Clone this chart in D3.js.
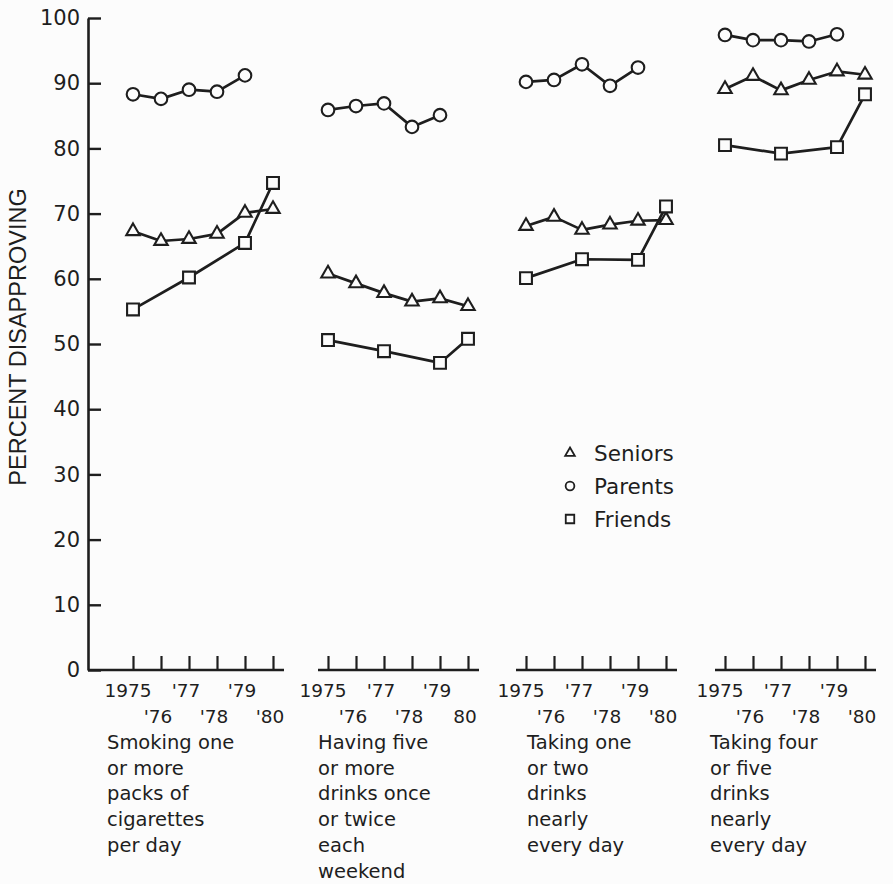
<!DOCTYPE html>
<html>
<head>
<meta charset="utf-8">
<script src="https://cdn.jsdelivr.net/npm/d3@7"></script>
<style>
  html, body { margin: 0; padding: 0; background: #fcfcfc; }
  svg { display: block; }
</style>
</head>
<body>
<script>
// Percent disapproving, by year, for four behaviours
const years = [1975, 1976, 1977, 1978, 1979, 1980];
const parentYears = [1975, 1976, 1977, 1978, 1979];
const friendYears = [1975, 1977, 1979, 1980];

const seniors = [
  [67.3, 65.8, 66.1, 66.9, 70.1, 70.7],
  [60.8, 59.3, 57.8, 56.5, 57.0, 55.8],
  [68.1, 69.5, 67.5, 68.3, 68.9, 69.0],
  [89.1, 91.1, 88.9, 90.5, 91.8, 91.3]
];
const parents = [
  [88.3, 87.6, 89.0, 88.7, 91.2],
  [85.9, 86.5, 86.9, 83.3, 85.1],
  [90.2, 90.5, 92.9, 89.6, 92.4],
  [97.4, 96.6, 96.6, 96.4, 97.5]
];
const friends = [
  [55.3, 60.2, 65.5, 74.7],
  [50.6, 48.9, 47.1, 50.8],
  [60.1, 63.0, 62.9, 71.1],
  [80.5, 79.2, 80.2, 88.3]
];

const panelTitles = [
  ["Smoking one", "or more", "packs of", "cigarettes", "per day"],
  ["Having five", "or more", "drinks once", "or twice", "each", "weekend"],
  ["Taking one", "or two", "drinks", "nearly", "every day"],
  ["Taking four", "or five", "drinks", "nearly", "every day"]
];

const yTicks = [0, 10, 20, 30, 40, 50, 60, 70, 80, 90, 100];
const yTitle = "PERCENT DISAPPROVING";
const upperYears = [1975, 1977, 1979];
const upperLabels = ["1975", "'77", "'79"];
const lowerYears = [1976, 1978, 1980];
const lowerLabels = [
  ["'76", "'78", "'80"],
  ["'76", "'78", "80"],
  ["'76", "'78", "'80"],
  ["'76", "'78", "'80"]
];
const seriesNames = ["Seniors", "Parents", "Friends"];

// ---- layout ----
const W = 893, H = 884;
const ink = "#1e1e1e";
const paper = "#fcfcfc";
const axisX = 88;
const panelLeft = [133, 328, 526, 725];
const panelSpan = 140;
const titleX = [107, 318, 527, 710];

const svg = d3.select("body").append("svg")
  .attr("width", W).attr("height", H)
  .style("background", paper);

const y = d3.scaleLinear().domain([0, 100]).range([670, 18]);

// y axis, ticks pointing inward
const yAxis = svg.append("g")
  .attr("transform", `translate(${axisX},0)`)
  .call(d3.axisLeft(y).tickValues(yTicks).tickSizeInner(-13).tickSizeOuter(0).tickPadding(8));
yAxis.select(".domain").attr("stroke", ink).attr("stroke-width", 2.6);
yAxis.selectAll(".tick line").attr("stroke", ink).attr("stroke-width", 2.4);
yAxis.selectAll(".tick text")
  .attr("fill", ink)
  .style("font-family", "DejaVu Sans, sans-serif")
  .style("font-size", "21px");

svg.append("text")
  .attr("transform", `translate(26,337) rotate(-90)`)
  .attr("text-anchor", "middle")
  .attr("fill", ink)
  .style("font-family", "Liberation Sans, Arial, sans-serif")
  .style("font-size", "23.5px")
  .text(yTitle);

const symTri = d3.symbol().type(d3.symbolTriangle);
const symCirc = d3.symbol().type(d3.symbolCircle);
const symSq = d3.symbol().type(d3.symbolSquare);

const line = d3.line();

panelLeft.forEach((x0, p) => {
  const x = d3.scaleLinear().domain([1975, 1980]).range([x0, x0 + panelSpan]);
  const g = svg.append("g");

  // baseline of the panel
  const lineStart = p === 0 ? axisX : x0 - 10;
  g.append("line")
    .attr("x1", lineStart).attr("x2", x0 + panelSpan + 11)
    .attr("y1", y(0)).attr("y2", y(0))
    .attr("stroke", ink).attr("stroke-width", 2.6);

  const xAxis = g.append("g")
    .attr("transform", `translate(0,${y(0)})`)
    .call(d3.axisBottom(x).tickValues(years).tickSizeInner(-14).tickSizeOuter(0).tickFormat(""));
  xAxis.select(".domain").remove();
  xAxis.selectAll(".tick line").attr("stroke", ink).attr("stroke-width", 2.2);

  // year labels in two staggered rows
  const yearFont = sel => sel
    .attr("text-anchor", "middle")
    .attr("fill", ink)
    .style("font-family", "DejaVu Sans, sans-serif")
    .style("font-size", "18.5px");
  upperYears.forEach((yr, i) => {
    g.append("text").attr("x", x(yr) - (i === 0 ? 5 : 3)).attr("y", 697)
      .call(yearFont).text(upperLabels[i]);
  });
  lowerYears.forEach((yr, i) => {
    g.append("text").attr("x", x(yr) - 3).attr("y", 723)
      .call(yearFont).text(lowerLabels[p][i]);
  });

  // behaviour description
  const t = g.append("text")
    .attr("fill", ink)
    .style("font-family", "DejaVu Sans, sans-serif")
    .style("font-size", "19.5px");
  panelTitles[p].forEach((s, i) => {
    t.append("tspan").attr("x", titleX[p]).attr("y", 749 + i * 25.7).text(s);
  });

  const series = [
    { yrs: years, vals: seniors[p], sym: symTri, size: 78 },
    { yrs: parentYears, vals: parents[p], sym: symCirc, size: 125 },
    { yrs: friendYears, vals: friends[p], sym: symSq, size: 140 }
  ];

  series.forEach(s => {
    const pts = s.yrs.map((yr, i) => [x(yr), y(s.vals[i])]);
    g.append("path")
      .attr("d", line(pts))
      .attr("fill", "none")
      .attr("stroke", ink)
      .attr("stroke-width", 2.7)
      .attr("stroke-linejoin", "round");
  });
  series.forEach(s => {
    g.selectAll(null)
      .data(s.yrs.map((yr, i) => [x(yr), y(s.vals[i])]))
      .join("path")
      .attr("transform", d => `translate(${d[0]},${d[1]})`)
      .attr("d", s.sym.size(s.size))
      .attr("fill", paper)
      .attr("stroke", ink)
      .attr("stroke-width", 2.1);
  });
});

// legend
const legendSyms = [[symTri, 40], [symCirc, 60], [symSq, 72]];
const legend = svg.append("g");
seriesNames.forEach((name, i) => {
  const cy = 453 + i * 33;
  legend.append("path")
    .attr("transform", `translate(570,${cy})`)
    .attr("d", legendSyms[i][0].size(legendSyms[i][1]))
    .attr("fill", "none")
    .attr("stroke", ink)
    .attr("stroke-width", 1.8);
  legend.append("text")
    .attr("x", 594).attr("y", cy + 8)
    .attr("fill", ink)
    .style("font-family", "DejaVu Sans, sans-serif")
    .style("font-size", "21.5px")
    .text(name);
});
</script>
</body>
</html>
